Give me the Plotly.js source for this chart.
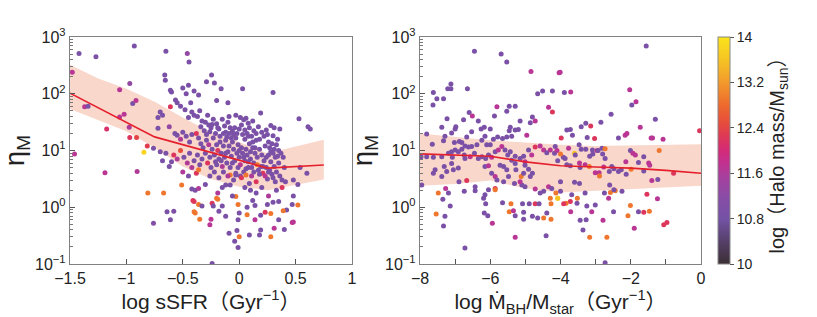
<!DOCTYPE html>
<html>
<head>
<meta charset="utf-8">
<script src="https://cdn.plot.ly/plotly-3.0.1.min.js"></script>
<style>html,body{margin:0;padding:0;background:#fff;}#chart{width:817px;height:317px;}</style>
</head>
<body>
<div id="chart"></div>
<script>
// ---------- Left panel: log sSFR vs eta_M (eta stored as log10) ----------
const sfrX = [
 -1.48,-1.42,-1.27,-0.93,-0.65,-0.46,-0.445,-0.66,-0.655,-0.61,-0.60,-0.50,-0.45,-0.47,-0.40,-0.36,-0.29,-0.245,-0.22,-0.16,0.03,0.30,-1.06,-0.97,
 -0.944,-0.915,-1.37,-1.34,-1.02,-1.06,-1.175,-0.975,-0.97,-0.91,-0.815,-0.845,-0.76,-0.72,-0.70,-0.68,-0.72,-0.62,-0.61,-0.565,
 -0.55,-0.52,-0.48,-0.43,-0.42,-0.40,-0.45,-0.37,-0.35,-0.33,-0.30,-0.28,-0.27,-0.25,-0.23,-0.20,-0.18,-0.15,-0.13,-0.10,
 -0.08,-0.12,-0.06,-0.20,-0.10,-0.09,-0.03,0.01,0.04,0.06,0.08,0.12,0.19,0.28,0.31,0.36,0.30,0.53,0.61,0.63,
 -0.57,-0.55,-0.52,-0.50,-0.47,-0.44,-0.42,-0.38,-0.36,-0.34,
 -0.32,-0.30,-0.29,-0.27,-0.26,-0.24,-0.23,-0.22,-0.21,-0.20,-0.19,-0.18,-0.17,-0.16,-0.15,-0.14,-0.13,-0.12,-0.11,-0.10,
 -0.09,-0.08,-0.07,-0.06,-0.05,-0.04,-0.03,-0.02,-0.01,0.00,0.01,0.02,0.03,0.04,0.05,0.05,0.06,0.07,0.08,0.09,
 0.10,0.10,0.11,0.12,0.13,0.14,0.15,0.16,0.17,0.18,0.19,0.20,0.21,0.22,0.23,0.24,0.25,0.26,0.27,0.28,
 0.29,0.30,0.31,0.32,0.33,0.34,0.35,0.36,0.38,0.40,0.41,0.48,0.52,0.54,0.60,-0.03,0.08,-0.25,-0.28,-0.33,
 -0.70,-0.65,-0.58,-0.60,-0.55,-0.52,-0.49,-0.46,-0.44,-0.42,-0.40,-0.38,-0.37,-0.36,-0.35,-0.45,-0.50,-0.62,-0.68,
 -0.51,-0.42,-0.39,-0.36,-0.41,-0.40,-0.36,-0.33,-0.39,-0.40,-0.35,-0.24,-0.20,-0.19,-0.19,-0.23,-0.15,-0.18,-0.12,-0.25,
 -0.26,-0.12,-0.08,-0.08,-0.03,0.01,0.06,-0.03,-0.01,0.00,0.07,0.07,0.14,-0.01,-0.02,-0.04,-0.01,0.00,0.09,0.14,
 0.19,0.25,0.30,0.35,0.23,0.28,0.42,0.39,0.47,0.52,0.48,0.35,0.40,0.31,0.28,0.19,0.18,0.47,0.48,-0.24,
 -0.09,-0.06,-0.64,-0.58,-0.61,-0.76,-0.81,-0.67,-1.19,-0.905,-1.46,0.10,0.15,0.20,0.33,0.38,0.05,-0.15,-0.30,0.26,0.12,
 -0.34,-0.31,-0.29,-0.26,-0.24,-0.21,-0.19,-0.17,-0.14,-0.11,-0.09,-0.07,-0.05,-0.04,-0.02,0.00,0.02,0.03,0.05,0.07,
 0.09,0.11,0.13,0.15,0.17,0.18,0.20,0.22,0.24,0.26,0.27,0.29,0.31,0.33,0.35,0.37,0.39,0.34,0.25,0.12,
 -0.01,0.02,0.04,0.06,0.08,0.11,0.13,0.16,0.18,0.21,0.23,0.24,0.26,0.28,0.30,0.32,0.15,0.09,-0.05,-0.10,
 -0.14,-0.18,-0.22,-0.26,-0.20,-0.16,-0.12,-0.06,0.00,0.14
];
const sfrLogEta = [
 2.38,2.71,2.65,2.84,2.75,2.71,2.56,2.33,2.24,2.06,2.03,2.10,2.15,2.00,2.05,1.98,2.21,2.33,2.19,2.09,2.09,2.02,2.07,2.18,
 1.83,1.88,1.77,1.78,1.64,1.59,1.38,1.41,1.23,1.23,1.08,0.97,1.04,1.58,1.68,1.62,1.39,1.42,1.77,1.89,
 1.84,1.78,1.72,1.84,1.68,1.62,1.58,1.60,1.70,1.52,1.50,1.62,1.45,1.40,1.55,1.47,1.38,1.55,1.43,1.50,
 1.40,1.32,1.34,1.88,1.84,1.60,1.62,1.58,1.54,1.57,1.48,1.52,1.66,1.44,1.40,1.38,1.26,1.56,1.42,1.38,
 1.30,1.27,1.20,1.32,1.25,1.15,1.28,1.30,1.22,1.12,
 1.05,0.95,1.18,1.10,0.88,1.02,1.22,0.92,0.80,1.10,1.00,0.85,1.25,0.95,0.72,1.08,0.88,1.18,0.78,0.98,
 1.08,0.70,0.90,1.15,1.02,0.82,0.60,0.95,1.10,0.88,0.75,1.05,0.95,0.62,1.20,0.82,1.02,0.92,0.70,1.12,
 0.98,0.85,0.55,1.05,0.78,0.95,1.18,0.88,0.65,1.02,0.72,0.92,0.60,0.82,1.08,0.70,0.50,0.92,0.65,0.80,
 0.58,0.95,0.72,0.88,0.62,0.90,0.78,0.55,0.48,0.70,0.45,0.48,0.40,0.70,0.60,1.22,1.25,0.70,0.78,0.85,
 0.98,0.95,0.92,0.80,0.85,1.00,0.88,0.78,0.95,0.70,0.82,0.60,0.92,0.66,0.75,0.55,0.62,0.72,0.82,
 0.39,0.32,0.30,0.33,0.12,0.10,0.05,0.02,-0.10,-0.08,-0.21,0.07,0.16,0.14,0.25,0.02,0.02,-0.07,-0.16,-0.21,
 -0.31,0.39,0.39,0.57,0.57,0.55,0.57,0.19,0.05,-0.10,-0.13,0.00,0.03,-0.22,-0.41,-0.60,-0.71,-0.52,-0.49,-0.22,
 -0.14,0.05,0.09,0.10,-0.09,-0.11,-0.05,-0.06,0.05,0.04,0.20,-0.22,-0.39,-0.37,-0.52,-0.40,-0.49,-0.27,-0.26,-0.99,
 -0.46,0.20,-0.08,-0.07,-0.22,-0.28,0.25,0.25,0.61,0.63,0.94,0.30,0.25,0.35,0.30,0.35,0.35,0.35,0.40,0.20,0.12,
 1.42,1.35,1.28,1.33,1.46,1.30,1.40,1.15,1.30,1.24,1.30,1.22,1.28,1.40,1.30,1.38,1.45,1.28,1.36,1.30,
 1.40,1.25,1.35,1.30,1.42,1.20,1.32,1.25,1.36,1.15,1.05,1.12,1.02,1.10,1.00,0.95,0.88,1.20,1.28,1.15,
 0.70,0.52,0.88,0.68,0.80,0.70,0.62,0.75,0.58,0.72,0.55,0.88,0.62,0.98,0.52,0.45,0.45,0.42,0.48,0.55,
 0.62,0.52,0.62,0.55,0.75,0.82,0.95,0.78,1.00,1.05
];
const sfrHalo = [
 11.7,10.9,10.9,10.9,10.9,11.3,10.9,10.9,10.9,10.9,10.9,10.9,10.9,10.9,10.9,10.9,10.9,10.9,10.9,10.9,10.9,10.9,11.7,11.3,
 10.9,11.7,11.7,10.9,11.7,11.7,12.1,11.6,12.2,12.4,12.3,13.8,10.9,10.9,10.9,10.9,10.9,11.3,12.2,10.9,
 10.9,10.9,10.9,10.9,10.9,10.9,10.9,10.9,10.9,10.9,10.9,10.9,10.9,10.9,10.9,10.9,10.9,10.9,10.9,10.9,
 10.9,10.9,10.9,10.9,10.9,10.9,10.9,10.9,10.9,10.9,10.9,10.9,10.9,10.9,10.9,10.9,10.9,10.9,10.9,10.9,
 10.9,10.9,11.6,10.9,10.9,10.9,10.9,12.2,10.9,10.9,
 10.9,10.9,10.9,11.6,10.9,10.9,10.9,10.9,10.9,10.9,12.2,10.9,10.9,10.9,11.6,10.9,10.9,10.9,10.9,10.9,
 10.9,10.9,10.9,10.9,10.9,10.9,10.9,10.9,10.9,10.9,11.7,10.9,10.9,10.9,10.9,10.9,10.9,10.9,10.9,10.9,
 10.9,10.9,11.6,10.9,10.9,10.9,10.9,10.9,10.9,10.9,10.9,10.9,12.2,10.9,10.9,10.9,10.9,10.9,10.9,10.9,
 10.9,10.9,10.9,10.9,10.9,10.9,10.9,10.9,10.9,10.9,10.9,10.9,10.9,10.9,10.9,10.9,10.9,10.9,12.2,10.9,
 10.9,10.9,12.2,10.9,11.6,12.5,10.9,11.6,10.9,11.6,10.9,12.2,10.9,12.9,10.9,10.9,11.6,10.9,10.9,
 12.9,10.9,10.9,11.6,12.2,12.2,12.9,10.9,12.9,12.9,12.9,12.2,12.9,12.9,11.6,10.9,10.9,10.9,10.9,11.7,
 11.7,10.9,10.9,12.9,10.9,10.9,12.9,12.9,12.9,10.9,12.9,10.9,10.9,10.9,10.9,10.9,10.9,12.9,10.9,11.7,
 10.9,10.9,10.9,10.9,12.2,12.9,10.9,12.9,10.9,12.9,10.9,10.9,10.9,11.7,12.9,10.9,10.9,11.7,11.7,10.9,
 10.9,10.9,10.9,11.0,10.9,11.1,12.9,12.9,11.7,11.6,11.7,10.9,10.9,10.9,10.9,12.2,10.9,10.9,10.9,11.6,10.9,
 10.9,10.9,10.9,10.9,10.9,10.9,10.9,10.9,10.9,10.9,10.9,10.9,10.9,10.9,10.9,10.9,10.9,10.9,10.9,10.9,
 10.9,10.9,10.9,10.9,10.9,10.9,10.9,10.9,10.9,10.9,10.9,10.9,10.9,10.9,10.9,10.9,10.9,10.9,10.9,10.9,
 10.9,12.2,10.9,10.9,10.9,10.9,10.9,12.9,10.9,10.9,11.7,10.9,10.9,10.9,10.9,10.9,12.2,10.9,10.9,11.6,
 10.9,10.9,10.9,10.9,10.9,10.9,10.9,10.9,10.9,10.9
];
// running median and 1-sigma band (log10 eta)
const sfrBandX   = [-1.5,-1.25,-1.0,-0.75,-0.5,-0.25,0.0,0.25,0.5,0.75];
const sfrBandLo  = [1.73,1.54,1.34,1.05,0.72,0.50,0.36,0.30,0.40,0.49];
const sfrBandHi  = [2.51,2.27,2.09,1.86,1.58,1.32,1.15,0.95,1.07,1.19];
const sfrMedX    = [-1.5,-0.75,0.25,0.75];
const sfrMed     = [2.01,1.24,0.69,0.745];

// ---------- Right panel: log Mdot_BH/M_star vs eta_M ----------
const bhX = [
 -6.45,-5.69,-5.53,-4.84,-7.62,-7.52,-7.63,-7.33,-7.21,-7.12,-7.12,-6.65,-6.60,-7.23,-7.38,-7.81,
 -6.98,-7.00,-7.10,-7.29,-7.33,-7.02,-6.88,-6.81,-6.76,-6.51,-6.34,-6.53,-6.67,-6.26,-6.17,-6.15,-6.00,-5.88,-5.81,-5.53,
 -5.46,-5.43,-5.46,-5.29,-5.20,-5.15,-4.96,-5.39,-5.53,-5.65,-5.79,-5.91,-6.00,-6.10,-6.24,-6.38,-6.53,-6.62,-6.72,-6.81,
 -6.91,-7.00,-7.10,-7.19,-7.38,-7.62,-7.81,-7.65,-7.97,-7.08,-7.10,-7.31,-7.57,-7.62,-7.38,-7.24,-6.89,-6.91,-7.05,-6.74,
 -6.72,-6.57,-6.45,-6.34,-6.24,-6.13,-6.05,-5.96,-5.86,-5.77,-5.67,-5.58,-5.50,-5.43,-5.39,-5.29,-5.15,-5.05,-5.01,-4.91,
 -4.82,-4.72,-4.58,-4.48,-4.39,-4.29,-4.17,-4.08,-4.15,-6.15,-6.05,-5.96,-5.86,-5.72,-5.62,-5.53,-5.29,-5.27,-5.12,-5.05,
 -5.01,-4.91,-4.80,-4.86,-5.10,-5.01,-5.15,-5.31,-5.48,-5.62,-5.81,-5.86,-5.86,-6.05,-6.15,-6.19,-6.43,-6.43,-6.67,-6.74,
 -7.19,-7.27,-7.35,-7.48,-7.14,-7.29,-7.33,-7.54,-6.72,-6.17,-6.07,-5.94,-6.13,-5.65,-5.46,-5.41,-5.34,-5.29,-5.29,-5.08,
 -5.05,-5.05,-4.89,-4.80,-4.72,-4.61,-4.65,-4.48,-4.39,-4.27,-4.41,-4.27,-4.29,-4.72,-4.58,-4.48,-4.34,-4.25,-4.13,-4.08,
 -5.29,-4.86,-4.80,-4.72,-4.34,-4.23,-4.65,-4.51,-4.23,-4.01,-7.95,
 -1.56,-4.04,-3.89,-3.71,-2.03,-1.85,-1.97,-2.56,-2.85,-1.30,-1.73,-0.04,-3.28,-3.14,-3.41,-3.72,-3.82,-3.66,-3.98,-3.24,
 -3.03,-2.35,-2.16,-2.11,-1.42,-1.38,-1.08,-3.47,-3.41,-3.28,-3.09,-2.96,-2.82,-2.73,-2.80,-2.93,-3.17,-3.08,-3.60,-3.58,
 -3.77,-3.87,-3.92,-4.00,-4.10,-3.82,-3.72,-3.46,-3.44,-3.30,-3.18,-3.01,-2.90,-2.89,-2.73,-2.77,-2.61,-2.54,-2.48,-2.35,
 -2.27,-2.14,-2.13,-2.01,-1.94,-1.87,-1.99,-1.78,-1.63,-1.63,-1.49,-1.46,-1.40,-1.23,-1.19,-0.78,-3.46,-3.60,-4.00,-2.60,
 -2.44,-2.58,-2.48,-2.25,-2.75,-2.63,-3.30,-3.68,-4.00,-3.52,-3.72,-3.84,-3.91,-4.08,-3.53,-3.71,-3.25,-3.01,-3.11,-3.44,
 -3.27,-3.36,-2.79,-3.17,-2.68,-2.49,-2.01,-2.08,-1.90,-1.78,-1.63,-1.47,-1.54,-1.24,-1.06,-0.97,-2.73
];
const bhLogEta = [
 2.75,2.70,2.56,2.39,2.02,1.91,1.80,1.91,2.09,2.09,2.17,2.09,1.67,1.56,1.41,1.29,
 1.42,1.38,1.31,1.25,1.17,1.14,1.16,1.14,1.54,1.61,1.52,1.33,1.24,1.38,1.41,1.25,1.38,1.61,1.77,1.69,
 1.78,1.41,1.35,1.36,1.37,1.52,1.27,1.25,1.24,1.21,1.24,1.20,1.10,1.10,1.18,1.10,1.07,1.06,1.08,1.02,
 0.98,1.01,0.98,0.95,0.89,0.88,0.89,1.11,0.89,0.88,0.77,0.72,0.66,0.60,0.54,0.63,0.45,0.69,0.66,0.92,
 0.86,0.89,0.95,0.86,0.89,0.86,0.92,0.88,0.98,1.01,1.07,1.01,0.92,0.98,0.83,0.90,0.86,0.90,0.80,1.01,
 0.92,1.06,1.08,1.01,0.96,1.01,0.95,0.82,1.07,0.72,0.73,0.60,0.54,0.74,0.72,0.66,0.77,0.66,0.54,0.60,
 0.74,0.67,0.60,0.54,0.39,0.36,0.45,0.42,0.54,0.45,0.48,0.33,0.31,0.31,0.22,0.16,0.36,0.29,0.47,0.28,
 0.25,0.33,0.14,0.25,0.02,-0.16,-0.33,-0.12,-0.72,-0.10,-0.15,-0.28,0.06,0.08,-0.08,0.06,-0.06,-0.15,-0.53,0.06,
 -0.09,-0.21,0.06,-0.16,0.06,0.06,-0.19,-0.19,-0.10,-0.21,-0.50,0.06,0.16,0.32,0.25,0.28,0.36,0.33,0.25,0.16,
 1.78,1.49,1.59,1.52,1.76,1.68,2.00,2.05,2.05,2.38,0.39,
 2.84,2.37,2.02,2.03,2.07,1.86,1.80,1.64,1.50,1.55,1.41,1.35,1.48,1.43,1.42,1.37,1.36,1.27,1.22,1.23,
 1.21,1.22,1.27,1.30,1.22,1.22,1.20,1.10,1.02,1.02,1.01,1.00,1.04,1.03,0.94,1.00,0.90,0.94,0.95,0.92,
 1.04,0.86,0.88,0.94,1.00,0.75,0.73,0.78,0.70,0.75,0.72,0.61,0.61,0.55,0.86,0.71,0.63,0.72,0.68,0.63,
 0.66,0.80,0.58,1.00,0.95,0.92,0.67,0.79,0.89,0.64,0.78,0.74,0.47,0.49,1.00,0.60,0.42,0.44,0.45,0.39,
 0.29,0.26,0.31,0.28,0.25,0.16,0.25,0.22,0.28,0.16,0.10,0.07,0.06,0.16,0.07,-0.08,0.02,0.04,-0.08,-0.23,
 -0.22,-0.40,-0.23,-0.53,-0.53,-0.08,0.03,-0.15,-0.37,-0.08,-0.09,-0.07,0.23,0.15,-0.31,-0.27,-0.98
];
const bhHalo = [
 10.9,10.9,10.9,11.7,10.9,10.9,10.9,10.9,10.9,10.9,10.9,10.9,10.9,10.9,10.9,10.9,
 10.9,10.9,10.9,10.9,10.9,10.9,10.9,10.9,10.9,11.7,10.9,10.9,10.9,10.9,10.9,10.9,10.9,10.9,11.7,10.9,
 10.9,10.9,10.9,10.9,10.9,10.9,11.7,10.9,10.9,10.9,10.9,10.9,10.9,10.9,10.9,10.9,10.9,10.9,10.9,10.9,
 10.9,10.9,10.9,10.9,10.9,10.9,10.9,10.9,10.9,10.9,10.9,10.9,10.9,10.9,10.9,10.9,10.9,10.9,10.9,10.9,
 10.9,11.7,10.9,10.9,10.9,10.9,10.9,11.7,10.9,11.7,11.7,10.9,10.9,10.9,10.9,10.9,10.9,10.9,11.7,10.9,
 11.7,12.2,11.7,11.7,10.9,11.7,10.9,10.9,10.9,10.9,11.7,10.9,11.7,10.9,10.9,10.9,10.9,10.9,12.9,10.9,
 10.9,10.9,10.9,10.9,10.9,10.9,11.7,10.9,10.9,10.9,10.9,12.2,12.9,10.9,10.9,10.9,10.9,10.9,12.2,10.9,
 10.9,11.7,10.9,12.9,10.9,10.9,10.9,12.9,10.9,10.9,10.9,11.7,10.9,10.9,12.9,12.9,11.7,10.9,11.7,10.9,
 10.9,10.9,10.9,10.9,12.2,10.9,10.9,12.9,10.9,12.9,10.9,12.9,12.9,11.7,10.9,10.9,11.7,10.9,12.9,13.6,
 10.9,10.9,10.9,11.7,11.7,12.2,10.9,10.9,10.9,11.7,10.9,
 10.9,11.7,10.9,11.7,11.7,11.7,10.9,10.9,10.9,10.9,11.7,12.2,10.9,12.2,10.9,10.9,10.9,10.9,12.2,10.9,
 12.2,10.9,11.7,11.7,11.7,11.7,11.7,10.9,10.9,10.9,10.9,11.7,10.9,12.9,10.9,10.9,10.9,10.9,13.6,10.9,
 11.7,10.9,10.9,12.9,11.7,10.9,10.9,11.7,10.9,11.7,12.9,11.7,11.7,12.9,10.9,11.7,10.9,10.9,10.9,10.9,
 10.9,11.7,10.9,10.9,11.7,11.7,12.9,10.9,10.9,10.9,11.7,11.7,11.7,10.9,12.9,12.2,10.9,10.9,10.9,10.9,
 12.9,12.9,10.9,10.9,10.9,11.7,10.9,10.9,10.9,12.9,12.2,12.9,12.2,13.6,10.9,11.7,10.9,10.9,11.7,10.9,
 10.9,10.9,11.7,12.9,12.9,10.9,12.9,12.9,11.7,10.9,12.2,12.9,12.2,11.7,12.2,12.2,10.9
];
const bhBandX  = [-8,-7,-6,-5,-4,-3,-2,-1,0];
const bhBandLo = [0.38,0.41,0.47,0.33,0.26,0.29,0.32,0.34,0.38];
const bhBandHi = [1.30,1.24,1.18,1.14,1.10,1.08,1.09,1.10,1.11];
const bhMed    = [0.94,0.92,0.90,0.80,0.73,0.71,0.69,0.65,0.60];

// ---------- colour bar and tick labels ----------
const haloTicks = [10,10.8,11.6,12.4,13.2,14];
const etaTickVals = [0.1,1,10,100,1000];
const etaTickText = ['10<sup>−1</sup>','10<sup>0</sup>','10<sup>1</sup>','10<sup>2</sup>','10<sup>3</sup>'];

const pw = v => v.map(a => Math.pow(10, a));
const minorVals = [];
for (let d = -1; d < 3; d++) for (let k = 2; k <= 9; k++) minorVals.push(k * Math.pow(10, d));

const W = 817, H = 317;
const FONT = '"Liberation Sans", Arial, "Noto Sans CJK JP", sans-serif';
const BAND = '#f9d7cb', LINE = '#e5202c';

function bandTraces(x, lo, hi, xa, ya) {
  return [
    {x: x, y: pw(lo), xaxis: xa, yaxis: ya, mode: 'lines', line: {width: 0, color: BAND}, hoverinfo: 'skip', showlegend: false},
    {x: x, y: pw(hi), xaxis: xa, yaxis: ya, mode: 'lines', line: {width: 0, color: BAND}, fill: 'tonexty', fillcolor: BAND, hoverinfo: 'skip', showlegend: false}
  ];
}
function pts(x, ly, c, xa, ya) {
  return {x: x, y: pw(ly), xaxis: xa, yaxis: ya, type: 'scatter', mode: 'markers',
    marker: {size: 5, color: c, coloraxis: 'coloraxis', line: {width: 0}}, showlegend: false};
}
function med(x, ly, xa, ya) {
  return {x: x, y: pw(ly), xaxis: xa, yaxis: ya, mode: 'lines', line: {color: LINE, width: 1.6}, showlegend: false};
}

const data = [
  ...bandTraces(sfrBandX, sfrBandLo, sfrBandHi, 'x', 'y'),
  ...bandTraces(bhBandX, bhBandLo, bhBandHi, 'x2', 'y2'),
  pts(sfrX, sfrLogEta, sfrHalo, 'x', 'y'),
  pts(bhX, bhLogEta, bhHalo, 'x2', 'y2'),
  med(sfrMedX, sfrMed, 'x', 'y'),
  med(bhBandX, bhMed, 'x2', 'y2')
];

const yDom = [1 - 264 / H, 1 - 37 / H];
function yAxis(anchor) {
  return {
    domain: yDom, anchor: anchor, type: 'log', range: [-1, 3],
    tickmode: 'array', tickvals: etaTickVals, ticktext: etaTickText,
    ticks: 'inside', ticklen: 5, tickcolor: '#555',
    minor: {tickmode: 'array', tickvals: minorVals, ticks: 'inside', ticklen: 3, tickcolor: '#777'},
    showline: true, linecolor: '#808080', linewidth: 1.2, mirror: true,
    showgrid: false, zeroline: false,
    tickfont: {size: 16, color: '#222'},
    title: {text: 'η<sub>M</sub>', font: {size: 27, color: '#222'}, standoff: 4}
  };
}
function xAxis(anchor, dom, range, dtick, title, minorDtick) {
  const a = {
    domain: dom, anchor: anchor, range: range, dtick: dtick, tick0: 0,
    ticks: 'inside', ticklen: 5, tickcolor: '#555',
    showline: true, linecolor: '#808080', linewidth: 1.2, mirror: true,
    showgrid: false, zeroline: false,
    tickfont: {size: 16, color: '#222'},
    title: {text: title, font: {size: 21, color: '#222'}, standoff: 3}
  };
  if (minorDtick) a.minor = {dtick: minorDtick, ticks: 'inside', ticklen: 5, tickcolor: '#555'};
  return a;
}

const layout = {
  width: W, height: H,
  margin: {l: 0, r: 0, t: 0, b: 0},
  paper_bgcolor: '#fff', plot_bgcolor: '#fff',
  font: {family: FONT, color: '#222'},
  showlegend: false,
  xaxis: xAxis('y', [70 / W, 352 / W], [-1.5, 1], 0.5, 'log sSFR（Gyr<sup>−1</sup>）'),
  yaxis: yAxis('x'),
  xaxis2: xAxis('y2', [420 / W, 701 / W], [-8, 0], 2, 'log Ṁ<sub>BH</sub>/M<sub>star</sub>（Gyr<sup>−1</sup>）', 1),
  yaxis2: yAxis('x2'),
  coloraxis: {
    cmin: 10, cmax: 14,
    colorscale: [
      [0, '#3b2f33'], [0.1, '#56406a'], [0.2, '#7452a6'], [0.3, '#8a4ca6'], [0.38, '#a6409e'],
      [0.45, '#c4308e'], [0.5, '#d42a78'], [0.56, '#de3858'], [0.62, '#e64c3c'], [0.7, '#ee6a2e'],
      [0.8, '#f29a2c'], [0.9, '#f6c424'], [1, '#fae41a']
    ],
    colorbar: {
      x: 718 / W, xanchor: 'left', xref: 'paper', xpad: 0, ypad: 0,
      y: yDom[0], yanchor: 'bottom', len: yDom[1] - yDom[0], lenmode: 'fraction',
      thickness: 12, thicknessmode: 'pixels',
      outlinecolor: '#888', outlinewidth: 1,
      tickmode: 'array', tickvals: haloTicks,
      ticks: 'outside', ticklen: 4, tickcolor: '#555',
      tickfont: {size: 14, color: '#222'},
      title: {text: 'log（Halo mass/M<sub>sun</sub>）', side: 'right', font: {size: 20, color: '#222'}}
    }
  }
};

Plotly.newPlot('chart', data, layout, {staticPlot: true, displayModeBar: false});
</script>
</body>
</html>
